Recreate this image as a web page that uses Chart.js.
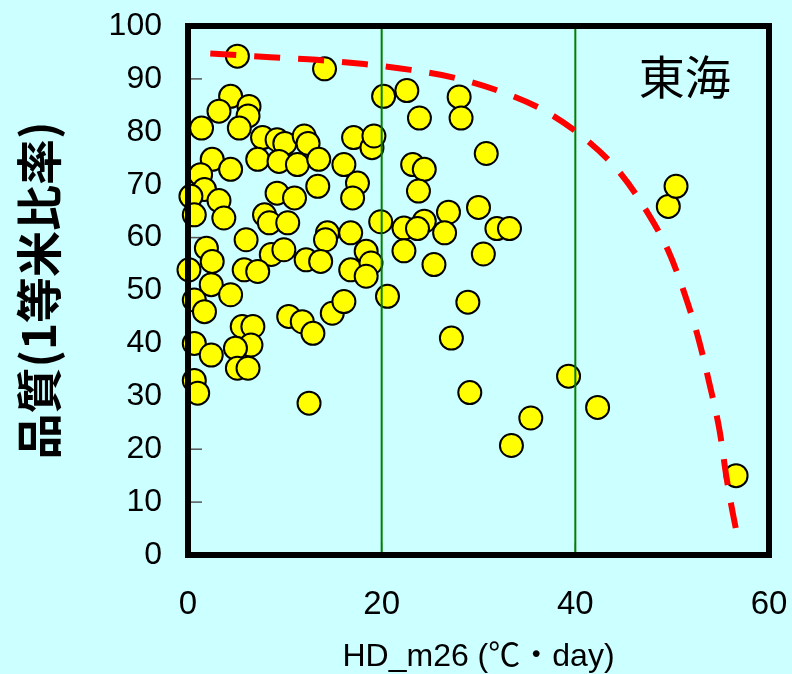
<!DOCTYPE html>
<html>
<head>
<meta charset="utf-8">
<script src="https://cdn.jsdelivr.net/npm/chart.js@4"></script>
<style>
  html, body { margin: 0; padding: 0; background: #CCFFFF; }
  #wrap { width: 792px; height: 674px; }
</style>
</head>
<body>
<div id="wrap"><canvas id="chart-id" width="792" height="674"></canvas></div>
<script>
// Data //

// HD_m26 (℃・day) of each sample
const hdValues = [
  5.1, 14.1, 4.4, 6.3, 3.2, 6.2, 1.4, 5.3, 7.7, 9.2, 10, 12, 12.4, 7.2, 9.4, 11.3, 13.5, 16.1, 17.1, 19, 19.2, 20.2,
  2.5, 4.4, 1.3, 1.7, 13.4, 17.5, 17, 9.2, 11, 0.3, 3.2,
  0.65, 3.7, 7.9, 8.4, 10.3, 6, 8.6, 9.9, 12.2, 14.4, 14.2, 16.8, 13.7, 16.8, 18.4, 18.9, 18.4, 19.9,
  1.9, 2.5, 0.1, 5.8, 7.2, 2.4, 4.4, 0.65, 1.7, 10.4, 11.8, 12.9, 14.9, 16.1, 5.6, 6.7, 6.5, 4.9,
  0.65, 2.4, 5.1, 6.2, 0.65, 1, 12.5,
  22.6, 28, 28.2, 23.9, 30.8, 23.2, 24.4, 23.8, 22.3, 24.4, 23.7, 26.9, 26.5, 30, 31.9, 33.2, 22.3, 25.4, 30.5,
  20.6, 28.9, 27.2, 29.1, 39.3, 42.3, 35.4, 33.4, 49.6, 50.4, 56.6
];
// 品質 (1等米比率, %) of each sample
const qualityValues = [
  94.3, 91.9, 86.7, 84.8, 83.9, 83, 80.7, 80.7, 78.9, 78.5, 77.8, 79.2, 77.8, 74.8, 74.4, 73.8, 74.8, 73.8, 78.9, 77, 79.2, 86.7,
  74.8, 72.9, 71.9, 69.1, 69.7, 70.3, 67.5, 68.4, 67.5, 67.8, 67,
  64.3, 63.7, 64.3, 62.8, 62.8, 59.6, 56.8, 57.7, 55.8, 60.9, 59.6, 60.9, 55.5, 53.9, 57.4, 55.2, 52.7, 63,
  58, 55.5, 53.9, 53.9, 53.6, 51.1, 49.2, 48.2, 46, 45.1, 44.1, 41.9, 45.7, 47.9, 43.2, 43.2, 39.7, 39.1,
  40, 37.8, 35.3, 35.3, 33, 30.6, 28.7,
  87.8, 86.6, 82.6, 82.6, 75.9, 73.8, 72.9, 68.8, 61.8, 63.1, 61.7, 64.8, 60.9, 65.7, 61.7, 61.7, 57.5, 54.9, 56.9,
  48.9, 47.8, 41, 30.7, 33.8, 27.9, 25.9, 20.7, 65.9, 69.7, 15
];

// upper limit curve (red dashed)
const curveX = [2.3, 5, 8.5, 13.3, 18.2, 23, 27.8, 32.3, 36.8, 40.8, 44.5, 47.2, 49.6, 51.3, 52.7, 53.9, 54.9, 55.6, 56.2, 56.8];
const curveY = [94.8, 94.5, 94.1, 93.6, 92.8, 91.7, 90.1, 87.6, 84, 79, 72.5, 65.5, 57.5, 49.3, 41, 32, 23.5, 14.8, 8.5, 3];

// green box 20-40 ℃・day
const boxX = [20, 20, 40, 40, 20];
const boxY = [0, 100, 100, 0, 0];

// ticks
const xTicks = [0, 20, 40, 60];
const yTicks = [0, 10, 20, 30, 40, 50, 60, 70, 80, 90, 100];

const regionLabel = "東海";
const labelPos = { x: 51.3, y: 90.4 };

// Build point lists
const scatterPoints = hdValues.map((v, i) => ({ x: v, y: qualityValues[i] }));
const curvePoints = curveX.map((v, i) => ({ x: v, y: curveY[i] }));
const boxPoints = boxX.map((v, i) => ({ x: v, y: boxY[i] }));

// inner tick marks, frame and region label
const framePlugin = {
  id: "frame",
  beforeDatasetsDraw(chart) {
    const { ctx, chartArea: a, scales } = chart;
    ctx.save();
    ctx.strokeStyle = "#555555";
    ctx.lineWidth = 1.5;
    yTicks.forEach(v => {
      const py = scales.y.getPixelForValue(v);
      ctx.beginPath();
      ctx.moveTo(a.left, py);
      ctx.lineTo(a.left + 14, py);
      ctx.stroke();
    });
    ctx.strokeStyle = "#000000";
    ctx.lineWidth = 1;
    xTicks.forEach(v => {
      const px = scales.x.getPixelForValue(v);
      ctx.beginPath();
      ctx.moveTo(px, a.bottom);
      ctx.lineTo(px, a.bottom - 12);
      ctx.stroke();
    });
    ctx.restore();
  },
  afterDatasetsDraw(chart) {
    const { ctx, chartArea: a, scales } = chart;
    ctx.save();
    ctx.strokeStyle = "#000000";
    ctx.lineWidth = 6;
    ctx.strokeRect(a.left, a.top, a.right - a.left, a.bottom - a.top);
    ctx.fillStyle = "#000000";
    ctx.font = '46px "Noto Sans CJK JP"';
    ctx.textAlign = "center";
    ctx.textBaseline = "middle";
    ctx.fillText(regionLabel, scales.x.getPixelForValue(labelPos.x), scales.y.getPixelForValue(labelPos.y));
    ctx.restore();
  }
};

const canvas = document.getElementById("chart-id");

new Chart(canvas.getContext("2d"), {
  type: "scatter",
  data: {
    datasets: [
      {
        label: "curve",
        data: curvePoints,
        showLine: true,
        borderColor: "#FF0000",
        borderWidth: 6,
        borderDash: [26, 18],
        pointRadius: 0,
        tension: 0.4,
        cubicInterpolationMode: "monotone",
        order: 1
      },
      {
        label: "box",
        data: boxPoints,
        showLine: true,
        borderColor: "#008000",
        borderWidth: 2,
        pointRadius: 0,
        tension: 0,
        order: 2
      },
      {
        label: "samples",
        data: scatterPoints,
        backgroundColor: "#FFFF00",
        borderColor: "#000000",
        borderWidth: 2,
        pointRadius: 11.5,
        clip: false,
        order: 3
      }
    ]
  },
  options: {
    responsive: false,
    animation: false,
    layout: { padding: { top: 26, right: 23, left: 0, bottom: 0 } },
    plugins: { legend: { display: false }, tooltip: { enabled: false } },
    scales: {
      x: {
        type: "linear",
        min: 0,
        max: 60,
        afterBuildTicks: scale => { scale.ticks = xTicks.map(v => ({ value: v })); },
        afterFit: scale => {
          scale.height = 119;
          scale.paddingLeft = 0;
          scale.paddingRight = 0;
        },
        grid: { display: false, drawTicks: false },
        border: { display: false },
        ticks: { color: "#000000", padding: 30, font: { family: '"Liberation Sans"', size: 33 } },
        title: {
          display: true,
          text: "HD_m26 (℃・day)",
          color: "#000000",
          padding: { top: 0, bottom: 1 },
          font: { family: '"Liberation Sans", "Noto Sans CJK JP"', size: 32, lineHeight: 1 }
        }
      },
      y: {
        type: "linear",
        min: 0,
        max: 100,
        afterBuildTicks: scale => { scale.ticks = yTicks.map(v => ({ value: v })); },
        afterFit: scale => {
          scale.width = 188;
          scale.paddingTop = 0;
          scale.paddingBottom = 0;
        },
        grid: { display: false, drawTicks: false },
        border: { display: false },
        ticks: { color: "#000000", padding: 26, font: { family: '"Liberation Sans"', size: 32 } },
        title: {
          display: true,
          text: "品質(1等米比率)",
          color: "#000000",
          padding: { top: 11, bottom: 0 },
          font: { family: '"Noto Sans CJK JP"', size: 46, weight: "bold", lineHeight: 1.2 }
        }
      }
    }
  },
  plugins: [framePlugin]
});
</script>
</body>
</html>
